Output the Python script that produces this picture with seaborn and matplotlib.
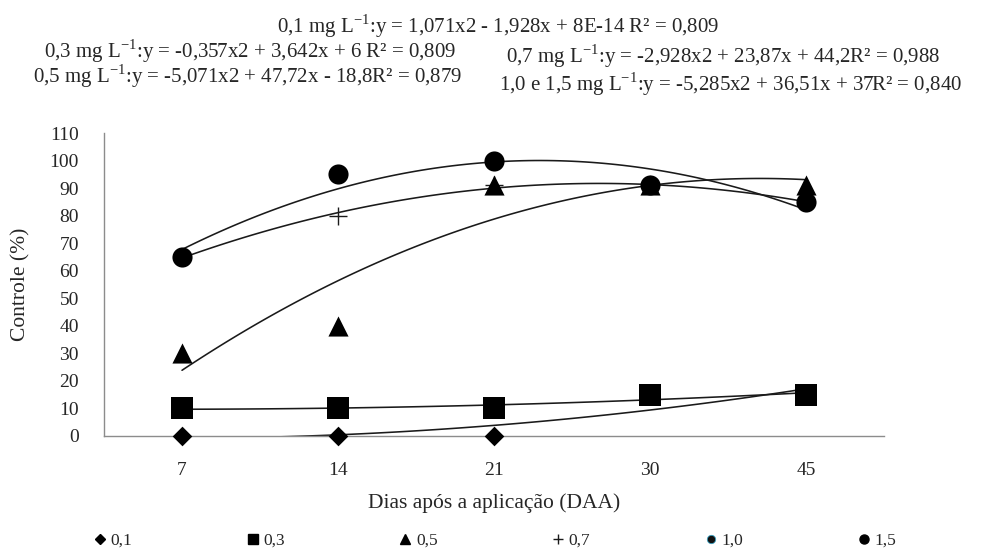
import numpy as np
import pandas as pd
import matplotlib
matplotlib.use("Agg")
import matplotlib.pyplot as plt
from matplotlib.lines import Line2D
import seaborn as sns

# ---- data ----
days = ["7", "14", "21", "30", "45"]
c01 = [0, 0, 0, 15, 15]
c03 = [10, 10, 10, 15, 15]
c05 = [30, 40, 91, 91, 91]
c07 = [65, 80, 91, 91, 85]
c10 = [65, 95, 100, 91, 85]
c15 = [65, 95, 100, 91, 85]
labels = ["0,1", "0,3", "0,5", "0,7", "1,0", "1,5"]
equations = [
    "0,1 mg L$^{\\mathrm{-1}}$:y = 1,071x2 - 1,928x + 8E-14 R² = 0,809",
    "0,3 mg L$^{\\mathrm{-1}}$:y = -0,357x2 + 3,642x + 6 R² = 0,809",
    "0,7 mg L$^{\\mathrm{-1}}$:y = -2,928x2 + 23,87x + 44,2R² = 0,988",
    "0,5 mg L$^{\\mathrm{-1}}$:y = -5,071x2 + 47,72x - 18,8R² = 0,879",
    "1,0 e 1,5 mg L$^{\\mathrm{-1}}$:y = -5,285x2 + 36,51x + 37R² = 0,840",
]
y_ticks = list(range(0, 111, 10))

sns.set_theme(style="white")
plt.rcParams["font.family"] = ["Liberation Serif", "DejaVu Serif"]
plt.rcParams["mathtext.fontset"] = "custom"
plt.rcParams["mathtext.rm"] = "Liberation Serif"

W, H = 990, 550
pos = np.arange(1, len(days) + 1)
series = [c01, c03, c05, c07, c10, c15]
fits = [True, True, True, True, False, True]
markers = ["D", "s", "^", "+", "o", "o"]
msizes = [100, 270, 210, 150, 30, 210]

fig = plt.figure(figsize=(9.9, 5.5), dpi=100)
ax = fig.add_axes([104 / W, 1 - 436 / H, 780 / W, 303 / H])

for vals, fit in zip(series, fits):
    if fit:
        sns.regplot(x=pos, y=vals, order=2, ci=None, scatter=False, truncate=True,
                    line_kws=dict(color="#1a1a1a", lw=1.15, zorder=2), ax=ax)

for vals, m, s in zip(series, markers, msizes):
    if m == "+":
        sns.scatterplot(x=pos, y=vals, marker=m, s=s, color="#1a1a1a", linewidth=1.0,
                        ax=ax, zorder=3, clip_on=False)
    elif s < 50:
        sns.scatterplot(x=pos, y=vals, marker=m, s=s, color="#111111", edgecolor="#3aa0c0",
                        linewidth=0.6, ax=ax, zorder=3, clip_on=False)
    else:
        sns.scatterplot(x=pos, y=vals, marker=m, s=s, color="black", edgecolor="black",
                        linewidth=0, ax=ax, zorder=4, clip_on=False)

ax.set_xlim(0.5, 5.5)
ax.set_ylim(0, 110)
ax.set_yticks(y_ticks)
ax.set_xticks(pos)
ax.set_xticklabels(days)
ax.set_xticks(np.arange(1.5, 5.6, 1.0), minor=True)
ax.tick_params(axis="x", which="major", length=0, pad=19, labelsize=14)
ax.tick_params(axis="x", which="minor", length=5, width=1, color="#8c8c8c", direction="out")
ax.tick_params(axis="y", which="major", length=5, width=1, color="#8c8c8c", direction="out",
               labelsize=14, pad=13)
for s in ["top", "right"]:
    ax.spines[s].set_visible(False)
for s in ["left", "bottom"]:
    ax.spines[s].set_color("#8c8c8c")
    ax.spines[s].set_linewidth(1)
ax.set_xlabel("Dias após a aplicação (DAA)", fontsize=15.5, labelpad=10)
ax.set_ylabel("Controle (%)", fontsize=15.5, labelpad=14)

# equations
fs = 15
fig.text(498 / W, 1 - 33 / H, equations[0], ha="center", va="baseline", fontsize=fs)
fig.text(250 / W, 1 - 58 / H, equations[1], ha="center", va="baseline", fontsize=fs)
fig.text(723 / W, 1 - 63 / H, equations[2], ha="center", va="baseline", fontsize=fs)
fig.text(248 / W, 1 - 83 / H, equations[3], ha="center", va="baseline", fontsize=fs)
fig.text(731 / W, 1 - 91 / H, equations[4], ha="center", va="baseline", fontsize=fs)

# legend
handles = []
for m, lab in zip(markers, labels):
    if m == "+":
        h = Line2D([], [], marker="+", ls="none", color="#1a1a1a", ms=7, mew=1)
    elif lab == "1,0":
        h = Line2D([], [], marker="o", ls="none", color="#111111", mec="#3aa0c0", ms=6, mew=0.6)
    elif m == "D":
        h = Line2D([], [], marker="D", ls="none", color="black", ms=5.5)
    else:
        h = Line2D([], [], marker=m, ls="none", color="black", ms=6.5)
    handles.append(h)
fig.legend(handles, labels, loc="center left", ncol=6,
           bbox_to_anchor=(93 / W, 1 - 541 / H), frameon=False,
           fontsize=12.5, handlelength=0.8, handletextpad=0.2, columnspacing=6.55,
           borderpad=0, borderaxespad=0)

fig.savefig("out.png", dpi=100)
